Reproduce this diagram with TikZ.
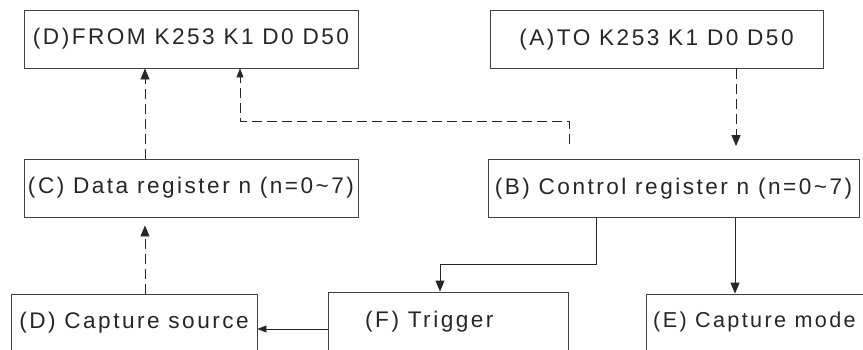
\documentclass[tikz,border=0pt]{standalone}
\usepackage{fontspec}
\setmainfont{Liberation Sans}[LetterSpace=11]
\usetikzlibrary{arrows.meta}
\begin{document}
\begin{tikzpicture}[x=1pt,y=-1pt,
  box/.style={draw=black!75, line width=0.9pt, minimum width=#1, minimum height=58pt, inner sep=0pt, anchor=center, font=\fontsize{22.6}{26}\selectfont, text=black!85},
  lbl/.style={anchor=west, inner sep=0pt, font=\fontsize{22.6}{26}\selectfont, text=black!85},
  conn/.style={draw=black!85, line width=0.9pt},
  dsh/.style={dash pattern=on 10pt off 5pt},
  arr/.style={-{Triangle[length=11pt,width=9pt]}},
  sarr/.style={-{Triangle[length=9pt,width=7pt]}}]
\useasboundingbox (0,0) rectangle (863,349);
\clip (0,0) rectangle (863,349);
\node[box=334] (from) at (191,39) {(D)FROM K253 K1 D0 D50};
\node[box=333] (to) at (656.5,39.5) {(A)TO K253 K1 D0 D50};
\node[box=334] (data) at (191,188) {(C) Data register n (n=0\textasciitilde7)};
\node[box=371] (ctrl) at (673.5,188.5) {(B) Control register n (n=0\textasciitilde7)};
\node[box=246] (src) at (134,323) {(D) Capture source};
\node[box=240] (trig) at (448,321) {};
\node[lbl] (trigt) at (365,322) {(F) Trigger};
\node[box=260] (mode) at (776,323) {};
\node[lbl, font=\fontsize{21.6}{25}\selectfont] (modet) at (653,322) {(E) Capture mode};
\coordinate (x1) at (145,0);
\coordinate (k1) at (569,121);
\coordinate (k2) at (240,121);
\coordinate (x4) at (736,0);
\coordinate (b1) at (596,264);
\coordinate (b2) at (440,264);
\coordinate (x5) at (735,0);
\coordinate (y1) at (0,329);
\draw[conn,dsh,arr] (data.north -| x1) -- (from.south -| x1);
\draw[conn,dsh,arr,shorten >=8pt] (src.north -| x1) -- (data.south -| x1);
\draw[conn,dsh,sarr,shorten <=15pt] (ctrl.north -| k1) -- (k1) -- (k2) -- (from.south -| k2);
\draw[conn,dsh,arr,shorten >=13pt] (to.south -| x4) -- (ctrl.north -| x4);
\draw[conn,arr] (ctrl.south -| b1) -- (b1) -- (b2) -- (trig.north -| b2);
\draw[conn,arr] (ctrl.south -| x5) -- (mode.north -| x5);
\draw[conn,sarr] (trig.west |- y1) -- (src.east |- y1);
\end{tikzpicture}
\end{document}
